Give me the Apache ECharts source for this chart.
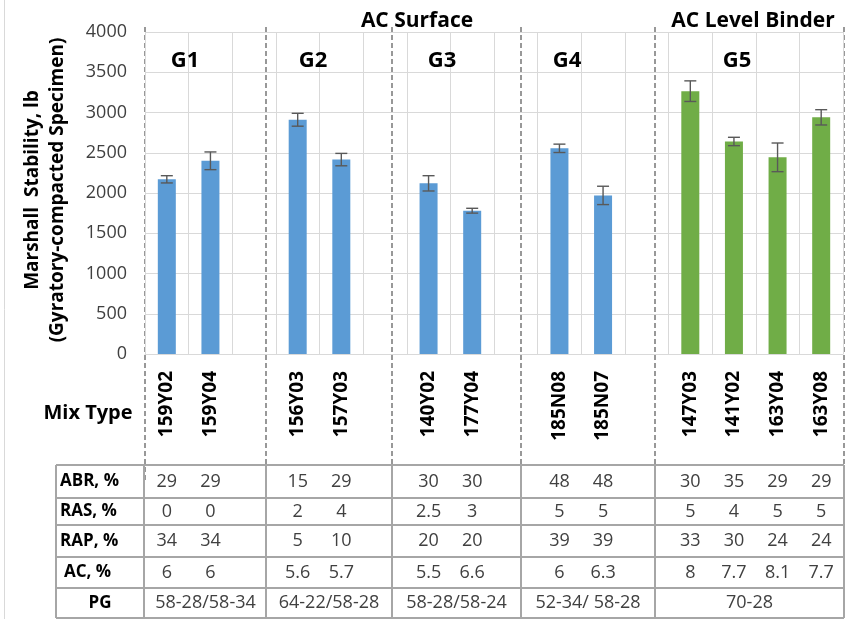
<!DOCTYPE html>
<html>
<head>
<meta charset="utf-8">
<script src="https://cdn.jsdelivr.net/npm/echarts@6/dist/echarts.min.js"></script>
<style>
  html, body { margin: 0; padding: 0; background: #ffffff; }
  #chart { width: 847px; height: 619px; }
</style>
</head>
<body>
<div id="chart"></div>
<script>
// Mix designs along the x axis; empty slots leave a gap after each group
const mixTypes = ['159Y02', '159Y04', '', '156Y03', '157Y03', '', '140Y02', '177Y04', '', '185N08', '185N07', '', '147Y03', '141Y02', '163Y04', '163Y08'];

// Marshall stability (lb) – surface mixes (blue) and level binder mixes (green)
const surfaceStability = [2170, 2400, null, 2910, 2415, null, 2120, 1780, null, 2555, 1970, null, null, null, null, null];
const binderStability = [null, null, null, null, null, null, null, null, null, null, null, null, 3265, 2640, 2443, 2940];
// Error bar half-ranges (lb)
const stabilityError = [45, 110, null, 80, 77, null, 95, 30, null, 52, 114, null, 128, 52, 178, 95];

const groupNames = ['G1', 'G2', 'G3', 'G4', 'G5'];
const sectionNames = ['AC Surface', 'AC Level Binder'];

// Mix property table
const tableRowNames = ['ABR, %', 'RAS, %', 'RAP, %', 'AC, %', 'PG'];
const abrValues = ['29', '29', '', '15', '29', '', '30', '30', '', '48', '48', '', '30', '35', '29', '29'];
const rasValues = ['0', '0', '', '2', '4', '', '2.5', '3', '', '5', '5', '', '5', '4', '5', '5'];
const rapValues = ['34', '34', '', '5', '10', '', '20', '20', '', '39', '39', '', '33', '30', '24', '24'];
const acValues = ['6', '6', '', '5.6', '5.7', '', '5.5', '6.6', '', '6', '6.3', '', '8', '7.7', '8.1', '7.7'];
const pgValues = ['58-28/58-34', '64-22/58-28', '58-28/58-24', '52-34/ 58-28', '70-28'];

const yMin = 0, yMax = 4000, yStep = 500;

// ---- layout ----
const W = 847, H = 619;
const gridLeft = 145, gridTop = 32, gridRight = 4, gridBottom = 265;
const plotW = W - gridLeft - gridRight;
const band = plotW / mixTypes.length;
const catX = i => gridLeft + (i + 0.5) * band;

const FONT = '"Open Sans", "Noto Sans", sans-serif';
const TEXT = '#404040';
const BLUE = '#5B9BD5';
const GREEN = '#70AD47';

// group separator positions (px) and table geometry
const sepX = [145, 266, 392, 521, 655, 844];
const tableLeft = 56;
const rowY = [465, 498, 525, 557, 588, 618];

const errorData = [];
stabilityError.forEach((e, i) => {
  const v = surfaceStability[i] != null ? surfaceStability[i] : binderStability[i];
  if (v != null && e != null) errorData.push([i, v, e]);
});

const graphic = [];

// thin frame line on the far left
graphic.push({ type: 'line', shape: { x1: 4.5, y1: 0, x2: 4.5, y2: H }, style: { stroke: '#d9d9d9', lineWidth: 1 }, silent: true });

// dashed group separators
sepX.forEach(x => {
  graphic.push({
    type: 'line', shape: { x1: x, y1: 27, x2: x, y2: 482 },
    style: { stroke: '#7f7f7f', lineWidth: 1.6, lineDash: [5, 3] }, silent: true
  });
});

// group labels
const groupLabelX = [185, 313, 442, 567, 737];
groupNames.forEach((g, k) => {
  graphic.push({
    type: 'text', x: groupLabelX[k], y: 61, z: 100,
    style: { text: g, font: 'bold 22px ' + FONT, fill: '#000', align: 'center', verticalAlign: 'middle' }
  });
});

// section headings
const sectionX = [417, 753];
sectionNames.forEach((s, k) => {
  graphic.push({
    type: 'text', x: sectionX[k], y: 21, z: 100,
    style: { text: s, font: 'bold 21px ' + FONT, fill: '#000', align: 'center', verticalAlign: 'middle' }
  });
});

// y axis title (two lines, rotated)
graphic.push({
  type: 'text', x: 45, y: 190, rotation: Math.PI / 2,
  style: {
    text: 'Marshall  Stability, lb\n(Gyratory-compacted Specimen)',
    font: 'bold 19px ' + FONT, fill: '#000', align: 'center', verticalAlign: 'middle', lineHeight: 25
  }
});

// x axis caption
graphic.push({
  type: 'text', x: 88, y: 413,
  style: { text: 'Mix Type', font: 'bold 20px ' + FONT, fill: '#000', align: 'center', verticalAlign: 'middle' }
});

// table grid
const tableRight = sepX[sepX.length - 1];
rowY.forEach(y => {
  graphic.push({ type: 'line', shape: { x1: tableLeft, y1: y, x2: tableRight, y2: y }, style: { stroke: '#a6a6a6', lineWidth: 2 }, silent: true });
});
[tableLeft].concat(sepX).forEach((x, k) => {
  const xx = k === 1 ? 144 : x;
  graphic.push({ type: 'line', shape: { x1: xx, y1: rowY[0], x2: xx, y2: rowY[rowY.length - 1] }, style: { stroke: '#a6a6a6', lineWidth: 2 }, silent: true });
});

// table row headers
tableRowNames.forEach((name, r) => {
  const cy = (rowY[r] + rowY[r + 1]) / 2;
  const isPG = name === 'PG';
  graphic.push({
    type: 'text', x: isPG ? 100 : (name.startsWith('AC') ? 64 : 60), y: cy,
    style: { text: name, font: 'bold 17px ' + FONT, fill: '#000', align: isPG ? 'center' : 'left', verticalAlign: 'middle' }
  });
});

// per-mix table values
[abrValues, rasValues, rapValues, acValues].forEach((vals, r) => {
  const cy = (rowY[r] + rowY[r + 1]) / 2;
  vals.forEach((v, i) => {
    if (!v) return;
    graphic.push({
      type: 'text', x: catX(i), y: cy,
      style: { text: v, font: '18px ' + FONT, fill: TEXT, align: 'center', verticalAlign: 'middle' }
    });
  });
});

// performance grade spans each group
pgValues.forEach((v, k) => {
  const cy = (rowY[4] + rowY[5]) / 2;
  graphic.push({
    type: 'text', x: (sepX[k] + sepX[k + 1]) / 2, y: cy,
    style: { text: v, font: '18px ' + FONT, fill: TEXT, align: 'center', verticalAlign: 'middle' }
  });
});

const chart = echarts.init(document.getElementById('chart'), null, { renderer: 'canvas' });
chart.setOption({
  backgroundColor: '#ffffff',
  animation: false,
  grid: { left: gridLeft, top: gridTop, right: gridRight, bottom: gridBottom, containLabel: false },
  xAxis: {
    type: 'category',
    data: mixTypes,
    axisTick: { show: false },
    axisLine: { show: true, lineStyle: { color: '#d9d9d9', width: 1 } },
    axisLabel: { interval: 0, rotate: 90, margin: 17, fontFamily: FONT, fontWeight: 'bold', fontSize: 19, color: '#000' },
    splitLine: { show: true, interval: 0, lineStyle: { color: '#d9d9d9', width: 1 } }
  },
  yAxis: {
    type: 'value',
    min: yMin, max: yMax, interval: yStep,
    axisLine: { show: false },
    axisTick: { show: false },
    axisLabel: { margin: 18, fontFamily: FONT, fontSize: 18, color: TEXT, formatter: v => String(v) },
    splitLine: { show: true, lineStyle: { color: '#d9d9d9', width: 1 } }
  },
  series: [
    {
      name: 'AC Surface', type: 'bar', data: surfaceStability, barWidth: 18, barGap: '-100%',
      itemStyle: { color: BLUE }
    },
    {
      name: 'AC Level Binder', type: 'bar', data: binderStability, barWidth: 18, barGap: '-100%',
      itemStyle: { color: GREEN }
    },
    {
      name: 'error', type: 'custom', data: errorData, z: 10,
      encode: { x: 0, y: 1 },
      renderItem: function (params, api) {
        const i = api.value(0), v = api.value(1), e = api.value(2);
        const hi = api.coord([i, v + e]);
        const lo = api.coord([i, v - e]);
        const cap = 6;
        const st = { stroke: '#595959', lineWidth: 1.4 };
        return {
          type: 'group',
          children: [
            { type: 'line', shape: { x1: hi[0], y1: hi[1], x2: lo[0], y2: lo[1] }, style: st },
            { type: 'line', shape: { x1: hi[0] - cap, y1: hi[1], x2: hi[0] + cap, y2: hi[1] }, style: st },
            { type: 'line', shape: { x1: lo[0] - cap, y1: lo[1], x2: lo[0] + cap, y2: lo[1] }, style: st }
          ]
        };
      }
    }
  ],
  graphic: graphic
});
</script>
</body>
</html>
